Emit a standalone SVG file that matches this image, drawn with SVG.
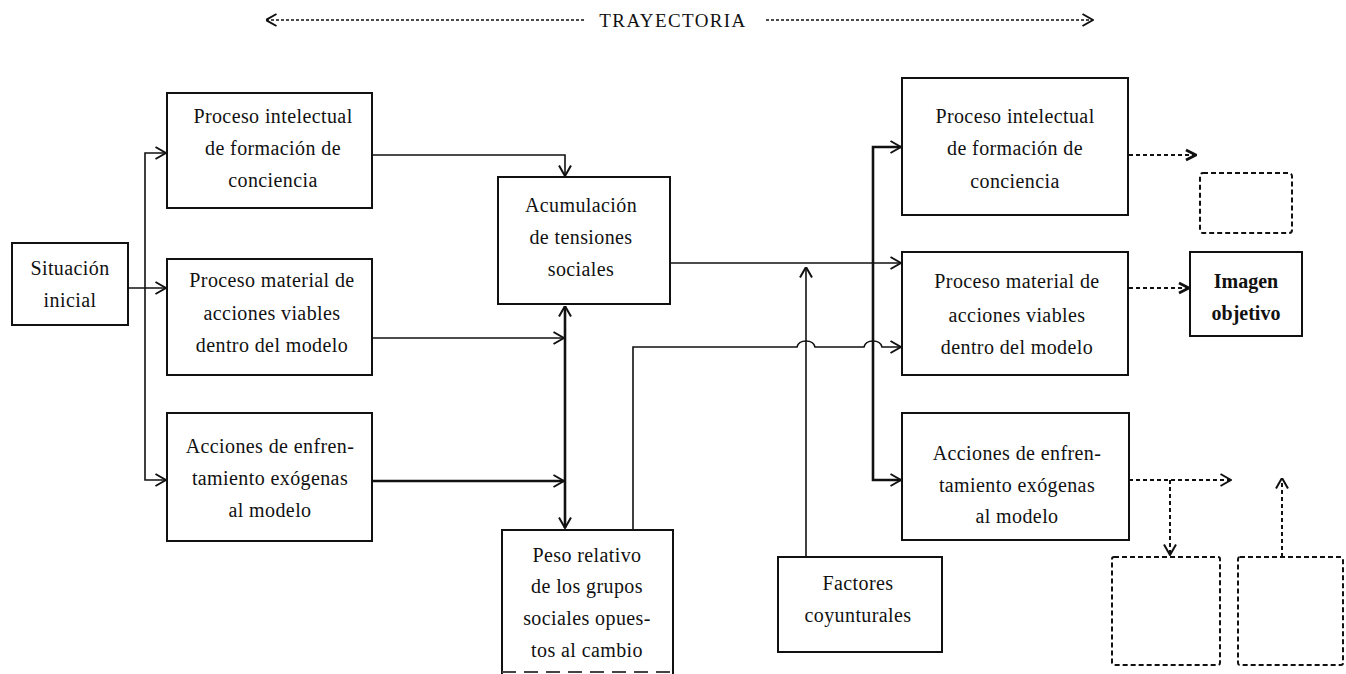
<svg xmlns="http://www.w3.org/2000/svg" width="1346" height="674" viewBox="0 0 1346 674">
<style>
  .box{fill:#fff;stroke:#111;stroke-width:2}
  .dbox{fill:none;stroke:#111;stroke-width:2;stroke-dasharray:5 3}
  .t{font-family:"Liberation Serif","Times New Roman",serif;font-size:20px;letter-spacing:0.4px;fill:#111;text-anchor:middle}
  .tb{font-weight:bold;letter-spacing:0}
  .c{fill:none;stroke:#111;stroke-width:1.6}
  .ck{fill:none;stroke:#111;stroke-width:2.6}
  .cd{fill:none;stroke:#111;stroke-width:2;stroke-dasharray:4 3}
  .top{fill:none;stroke:#111;stroke-width:1.3;stroke-dasharray:3 2}
</style>
<defs>
  <marker id="a" viewBox="0 0 12 14" refX="11.5" refY="7" markerWidth="12" markerHeight="14" markerUnits="userSpaceOnUse" orient="auto-start-reverse">
    <path d="M1,1 L11.5,7 L1,13" fill="none" stroke="#111" stroke-width="2"/>
  </marker>
  <marker id="ad" viewBox="0 0 12 14" refX="11.5" refY="7" markerWidth="12" markerHeight="14" markerUnits="userSpaceOnUse" orient="auto-start-reverse">
    <path d="M1.5,2 L11.5,7 L1.5,12" fill="none" stroke="#111" stroke-width="2.8"/>
  </marker>
</defs>

<g id="trayectoria">
  <path class="top" d="M266,20 H585" marker-start="url(#a)"/>
  <path class="top" d="M766,20 H1093" marker-end="url(#a)"/>
  <text class="t" x="673" y="27" style="font-size:19px;letter-spacing:1.4px">TRAYECTORIA</text>
</g>

<g id="connectors">
  <path class="c" d="M128,288 H166" marker-end="url(#a)"/>
  <path class="c" d="M145,288 V153 H166" marker-end="url(#a)"/>
  <path class="c" d="M145,288 V480 H166" marker-end="url(#a)"/>
  <path class="c" d="M372,155 H565 V176" marker-end="url(#a)"/>
  <path class="c" d="M372,338 H564" marker-end="url(#a)"/>
  <path class="ck" d="M372,481 H564" marker-end="url(#a)"/>
  <path class="ck" d="M565,306 V528" marker-start="url(#a)" marker-end="url(#a)"/>
  <path class="c" d="M670,263 H901" marker-end="url(#a)"/>
  <path class="ck" d="M873,263 V147 H901" marker-end="url(#a)"/>
  <path class="ck" d="M873,263 V480 H901" marker-end="url(#a)"/>
  <path class="c" d="M633,530 V347 H797 C799,339 813,339 815,347 H864 C866,339 880,339 882,347 H901" marker-end="url(#a)"/>
  <path class="c" d="M806,557 V267" marker-end="url(#a)"/>
  <path class="cd" d="M1129,155 H1196" marker-end="url(#ad)"/>
  <path class="cd" d="M1129,288 H1189" marker-end="url(#ad)"/>
  <path class="cd" d="M1129,480 H1231" marker-end="url(#a)"/>
  <path class="cd" d="M1170,480 V555" marker-end="url(#a)"/>
  <path class="cd" d="M1282,557 V478" marker-end="url(#a)"/>
</g>

<g id="situacion">
  <rect class="box" x="12" y="243" width="116" height="82"/>
  <text class="t" x="70" y="275">Situación</text>
  <text class="t" x="70" y="307">inicial</text>
</g>
<g id="l1">
  <rect class="box" x="167" y="93" width="205" height="115"/>
  <text class="t" x="273" y="123">Proceso intelectual</text>
  <text class="t" x="273" y="155">de formación de</text>
  <text class="t" x="273" y="187">conciencia</text>
</g>
<g id="l2">
  <rect class="box" x="167" y="259" width="205" height="116"/>
  <text class="t" x="272" y="287">Proceso material de</text>
  <text class="t" x="272" y="320">acciones viables</text>
  <text class="t" x="272" y="352">dentro del modelo</text>
</g>
<g id="l3">
  <rect class="box" x="167" y="413" width="205" height="128"/>
  <text class="t" x="270" y="453">Acciones de enfren-</text>
  <text class="t" x="270" y="485">tamiento exógenas</text>
  <text class="t" x="270" y="517">al modelo</text>
</g>
<g id="acumulacion">
  <rect class="box" x="498" y="177" width="172" height="127"/>
  <text class="t" x="581" y="212">Acumulación</text>
  <text class="t" x="581" y="244">de tensiones</text>
  <text class="t" x="581" y="276">sociales</text>
</g>
<g id="peso">
  <path class="box" d="M502,674 V530 H673 V674" fill="#fff"/>
  <path d="M502,672 H673" fill="none" stroke="#444" stroke-width="2" stroke-dasharray="14 8"/>
  <text class="t" x="587" y="562">Peso relativo</text>
  <text class="t" x="587" y="593">de los grupos</text>
  <text class="t" x="587" y="625">sociales opues-</text>
  <text class="t" x="587" y="657">tos al cambio</text>
</g>
<g id="factores">
  <rect class="box" x="778" y="557" width="164" height="95"/>
  <text class="t" x="858" y="590">Factores</text>
  <text class="t" x="858" y="622">coyunturales</text>
</g>
<g id="r1">
  <rect class="box" x="902" y="78" width="226" height="137"/>
  <text class="t" x="1015" y="123">Proceso intelectual</text>
  <text class="t" x="1015" y="155">de formación de</text>
  <text class="t" x="1015" y="188">conciencia</text>
</g>
<g id="r2">
  <rect class="box" x="902" y="252" width="226" height="123"/>
  <text class="t" x="1017" y="288">Proceso material de</text>
  <text class="t" x="1017" y="322">acciones viables</text>
  <text class="t" x="1017" y="354">dentro del modelo</text>
</g>
<g id="r3">
  <rect class="box" x="902" y="413" width="227" height="127"/>
  <text class="t" x="1017" y="460">Acciones de enfren-</text>
  <text class="t" x="1017" y="492">tamiento exógenas</text>
  <text class="t" x="1017" y="523">al modelo</text>
</g>
<g id="imagen">
  <rect class="box" x="1190" y="252" width="112" height="84"/>
  <text class="t tb" x="1246" y="288">Imagen</text>
  <text class="t tb" x="1246" y="320">objetivo</text>
</g>
<g id="d1"><rect class="dbox" x="1200" y="173" width="92" height="60" rx="3"/></g>
<g id="d2"><rect class="dbox" x="1112" y="557" width="108" height="108" rx="2"/></g>
<g id="d3"><rect class="dbox" x="1238" y="557" width="105" height="108" rx="2"/></g>
</svg>
